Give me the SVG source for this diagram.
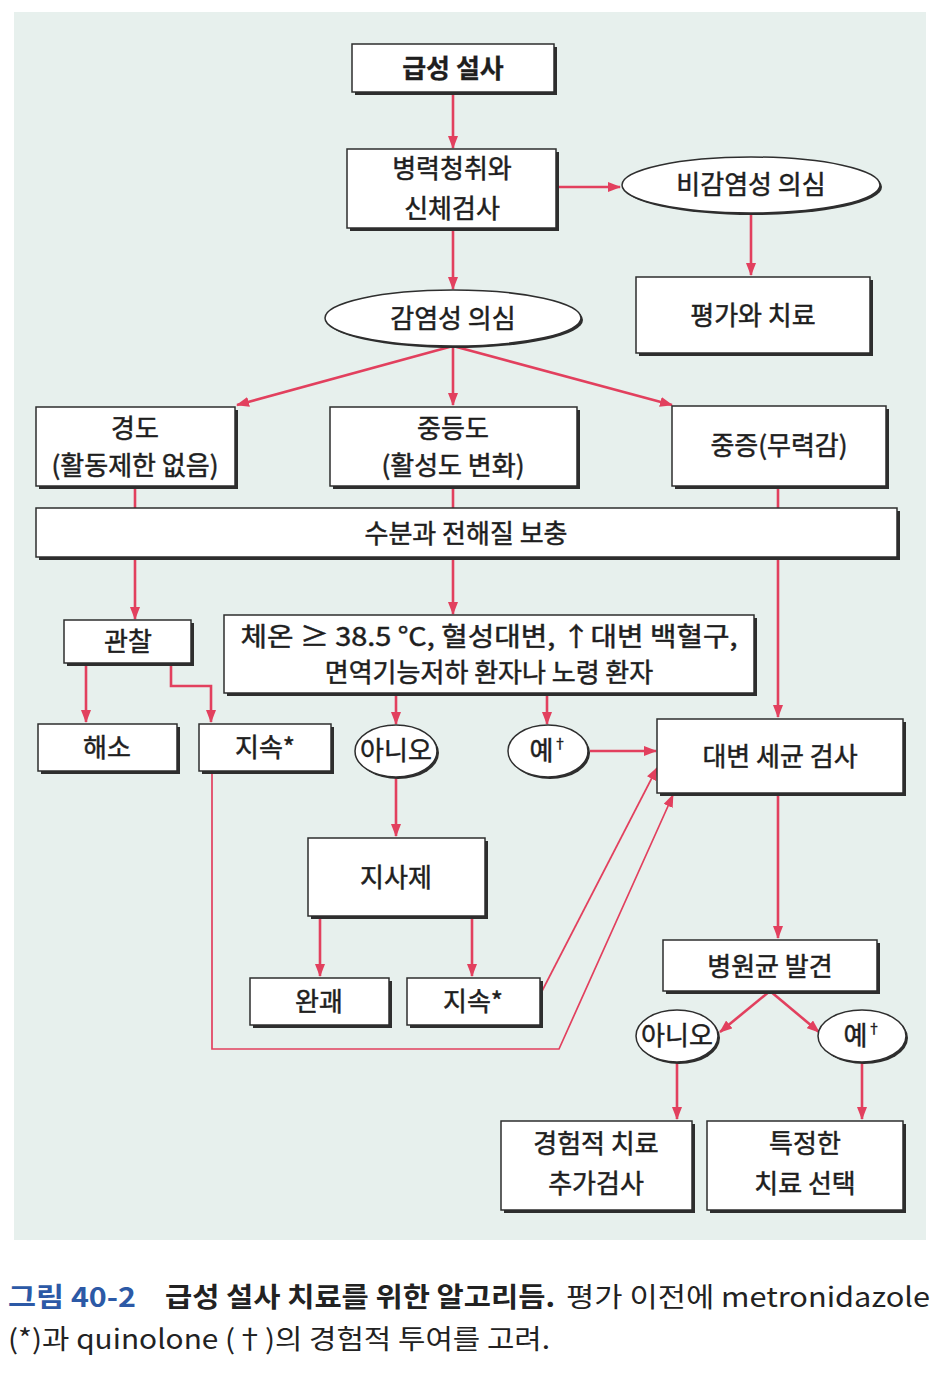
<svg xmlns="http://www.w3.org/2000/svg" width="948" height="1376" viewBox="0 0 948 1376">
<defs>
<marker id="ah" viewBox="0 0 13 10" refX="12" refY="5" markerWidth="13" markerHeight="10" markerUnits="userSpaceOnUse" orient="auto">
<path d="M0,0 L13,5 L0,10 z" fill="#e2405e"/>
</marker>
<style>
.bg{fill:#e7f0ed}
.sh{fill:#2e2e2e}
.bx{fill:#ffffff;stroke:#2e2e2e;stroke-width:1.5}
.t{font-family:"Noto Sans CJK KR","Noto Sans",sans-serif;font-size:26px;fill:#1e1e1e;stroke:#1e1e1e;stroke-width:0.5;text-anchor:middle}
.b{font-weight:700;stroke-width:0.3}
.ln{fill:none;stroke:#e2405e;stroke-width:2.6}
.thin{fill:none;stroke:#e2405e;stroke-width:1.7}
.cap{font-family:"Noto Sans CJK KR","Noto Sans",sans-serif;font-size:27px;fill:#222}
.capb{font-family:"Noto Sans CJK KR","Noto Sans",sans-serif;font-size:27px;font-weight:700;fill:#222}
.capn{font-family:"Noto Sans CJK KR","Noto Sans",sans-serif;font-size:27px;font-weight:700;fill:#2c59a6}
</style>
</defs>
<rect x="0" y="0" width="948" height="1376" fill="#ffffff"/>
<rect class="bg" x="14" y="12" width="912" height="1228"/>

<g id="connectors">
<line class="ln" x1="453" y1="92" x2="453" y2="148" marker-end="url(#ah)"/>
<line class="ln" x1="556" y1="187" x2="620" y2="187" marker-end="url(#ah)"/>
<line class="ln" x1="751" y1="213" x2="751" y2="275" marker-end="url(#ah)"/>
<line class="ln" x1="453" y1="228" x2="453" y2="289" marker-end="url(#ah)"/>
<line class="ln" x1="453" y1="346" x2="237" y2="405" marker-end="url(#ah)"/>
<line class="ln" x1="453" y1="346" x2="453" y2="405" marker-end="url(#ah)"/>
<line class="ln" x1="453" y1="346" x2="672" y2="405" marker-end="url(#ah)"/>
<line class="ln" x1="135" y1="486" x2="135" y2="508"/>
<line class="ln" x1="453" y1="486" x2="453" y2="508"/>
<line class="ln" x1="778" y1="486" x2="778" y2="508"/>
<line class="ln" x1="135" y1="557" x2="135" y2="619" marker-end="url(#ah)"/>
<line class="ln" x1="453" y1="557" x2="453" y2="614" marker-end="url(#ah)"/>
<line class="ln" x1="778" y1="557" x2="778" y2="717" marker-end="url(#ah)"/>
<line class="ln" x1="86" y1="663" x2="86" y2="722" marker-end="url(#ah)"/>
<path class="ln" d="M171,663 V686 H211 V722" marker-end="url(#ah)"/>
<line class="ln" x1="396" y1="693" x2="396" y2="724" marker-end="url(#ah)"/>
<line class="ln" x1="547" y1="693" x2="547" y2="724" marker-end="url(#ah)"/>
<line class="ln" x1="590" y1="751" x2="656" y2="751" marker-end="url(#ah)"/>
<line class="ln" x1="396" y1="777" x2="396" y2="836" marker-end="url(#ah)"/>
<line class="ln" x1="320" y1="916" x2="320" y2="976" marker-end="url(#ah)"/>
<line class="ln" x1="472" y1="916" x2="472" y2="976" marker-end="url(#ah)"/>
<line class="thin" x1="541" y1="993" x2="657" y2="768" marker-end="url(#ah)"/>
<path class="thin" d="M212,771 V1049 H559 L673,795" marker-end="url(#ah)"/>
<line class="ln" x1="778" y1="793" x2="778" y2="938" marker-end="url(#ah)"/>
<line class="ln" x1="770" y1="991" x2="720" y2="1032" marker-end="url(#ah)"/>
<line class="ln" x1="770" y1="991" x2="819" y2="1032" marker-end="url(#ah)"/>
<line class="ln" x1="677" y1="1062" x2="677" y2="1119" marker-end="url(#ah)"/>
<line class="ln" x1="862" y1="1062" x2="862" y2="1119" marker-end="url(#ah)"/>
</g>

<g id="n-start">
<rect class="sh" x="355" y="47" width="202" height="48"/>
<rect class="bx" x="352" y="44" width="202" height="48"/>
<text class="t b" x="453" y="78">급성 설사</text>
</g>
<g id="n-history">
<rect class="sh" x="350" y="152" width="209" height="79"/>
<rect class="bx" x="347" y="149" width="209" height="79"/>
<text class="t" x="452" y="178">병력청취와</text>
<text class="t" x="452" y="218">신체검사</text>
</g>
<g id="n-noninf">
<ellipse class="sh" cx="753" cy="187" rx="129" ry="28"/>
<ellipse class="bx" cx="751" cy="185" rx="129" ry="28"/>
<text class="t" x="751" y="194">비감염성 의심</text>
</g>
<g id="n-eval">
<rect class="sh" x="639" y="280" width="234" height="76"/>
<rect class="bx" x="636" y="277" width="234" height="76"/>
<text class="t" x="753" y="325">평가와 치료</text>
</g>
<g id="n-inf">
<ellipse class="sh" cx="455" cy="320" rx="128" ry="28"/>
<ellipse class="bx" cx="453" cy="318" rx="128" ry="28"/>
<text class="t" x="453" y="328">감염성 의심</text>
</g>
<g id="n-mild">
<rect class="sh" x="39" y="410" width="199" height="79"/>
<rect class="bx" x="36" y="407" width="199" height="79"/>
<text class="t" x="135" y="438">경도</text>
<text class="t" x="135" y="475">(활동제한 없음)</text>
</g>
<g id="n-moderate">
<rect class="sh" x="333" y="410" width="247" height="79"/>
<rect class="bx" x="330" y="407" width="247" height="79"/>
<text class="t" x="453" y="438">중등도</text>
<text class="t" x="453" y="475">(활성도 변화)</text>
</g>
<g id="n-severe">
<rect class="sh" x="675" y="409" width="214" height="80"/>
<rect class="bx" x="672" y="406" width="214" height="80"/>
<text class="t" x="779" y="455">중증(무력감)</text>
</g>
<g id="n-fluid">
<rect class="sh" x="39" y="511" width="861" height="49"/>
<rect class="bx" x="36" y="508" width="861" height="49"/>
<text class="t" x="466" y="543">수분과 전해질 보충</text>
</g>
<g id="n-observe">
<rect class="sh" x="67" y="623" width="127" height="43"/>
<rect class="bx" x="64" y="620" width="127" height="43"/>
<text class="t" x="128" y="651">관찰</text>
</g>
<g id="n-criteria">
<rect class="sh" x="227" y="618" width="530" height="78"/>
<rect class="bx" x="224" y="615" width="530" height="78"/>
<text class="t" x="489" y="646" textLength="497" lengthAdjust="spacingAndGlyphs">체온 ≥ 38.5 °C, 혈성대변, ↑대변 백혈구,</text>
<text class="t" x="489" y="682">면역기능저하 환자나 노령 환자</text>
</g>
<g id="n-resolve">
<rect class="sh" x="41" y="727" width="139" height="47"/>
<rect class="bx" x="38" y="724" width="139" height="47"/>
<text class="t" x="107" y="757">해소</text>
</g>
<g id="n-persist1">
<rect class="sh" x="202" y="727" width="132" height="47"/>
<rect class="bx" x="199" y="724" width="132" height="47"/>
<text class="t" x="265" y="757">지속*</text>
</g>
<g id="n-no1">
<ellipse class="sh" cx="398" cy="753" rx="41" ry="26"/>
<ellipse class="bx" cx="396" cy="751" rx="41" ry="26"/>
<text class="t" x="396" y="760">아니오</text>
</g>
<g id="n-yes1">
<ellipse class="sh" cx="550" cy="753" rx="40" ry="26"/>
<ellipse class="bx" cx="548" cy="751" rx="40" ry="26"/>
<text class="t" x="548" y="760">예<tspan font-size="13" dy="-12">†</tspan></text>
</g>
<g id="n-stool">
<rect class="sh" x="660" y="722" width="246" height="74"/>
<rect class="bx" x="657" y="719" width="246" height="74"/>
<text class="t" x="780" y="766">대변 세균 검사</text>
</g>
<g id="n-antidiarrheal">
<rect class="sh" x="311" y="841" width="177" height="78"/>
<rect class="bx" x="308" y="838" width="177" height="78"/>
<text class="t" x="396" y="887">지사제</text>
</g>
<g id="n-cure">
<rect class="sh" x="253" y="981" width="139" height="47"/>
<rect class="bx" x="250" y="978" width="139" height="47"/>
<text class="t" x="319" y="1011">완괘</text>
</g>
<g id="n-persist2">
<rect class="sh" x="410" y="981" width="133" height="47"/>
<rect class="bx" x="407" y="978" width="133" height="47"/>
<text class="t" x="473" y="1011">지속*</text>
</g>
<g id="n-pathogen">
<rect class="sh" x="666" y="943" width="214" height="51"/>
<rect class="bx" x="663" y="940" width="214" height="51"/>
<text class="t" x="770" y="976">병원균 발견</text>
</g>
<g id="n-no2">
<ellipse class="sh" cx="679" cy="1038" rx="41" ry="26"/>
<ellipse class="bx" cx="677" cy="1036" rx="41" ry="26"/>
<text class="t" x="677" y="1045">아니오</text>
</g>
<g id="n-yes2">
<ellipse class="sh" cx="864" cy="1038" rx="44" ry="26"/>
<ellipse class="bx" cx="862" cy="1036" rx="44" ry="26"/>
<text class="t" x="862" y="1045">예<tspan font-size="13" dy="-12">†</tspan></text>
</g>
<g id="n-empiric">
<rect class="sh" x="504" y="1124" width="191" height="89"/>
<rect class="bx" x="501" y="1121" width="191" height="89"/>
<text class="t" x="596" y="1153">경험적 치료</text>
<text class="t" x="596" y="1193">추가검사</text>
</g>
<g id="n-specific">
<rect class="sh" x="710" y="1124" width="196" height="89"/>
<rect class="bx" x="707" y="1121" width="196" height="89"/>
<text class="t" x="805" y="1153">특정한</text>
<text class="t" x="805" y="1193">치료 선택</text>
</g>

<g id="caption">
<text class="capn" x="8" y="1307" textLength="128" lengthAdjust="spacingAndGlyphs">그림 40-2</text>
<text class="capb" x="165" y="1307" textLength="390" lengthAdjust="spacingAndGlyphs">급성 설사 치료를 위한 알고리듬.</text>
<text class="cap" x="566" y="1307" textLength="364" lengthAdjust="spacingAndGlyphs">평가 이전에 metronidazole</text>
<text class="cap" x="8" y="1349" textLength="542" lengthAdjust="spacingAndGlyphs">(*)과 quinolone (†)의 경험적 투여를 고려.</text>
</g>
</svg>
